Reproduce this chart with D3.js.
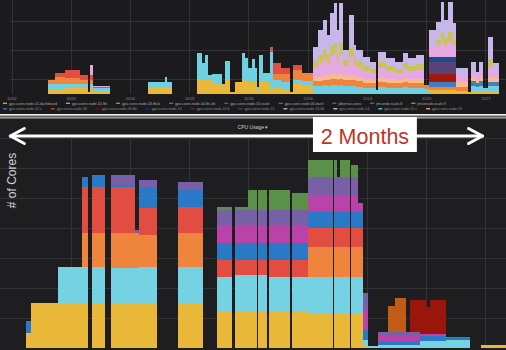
<!DOCTYPE html>
<html><head><meta charset="utf-8">
<script src="https://cdn.jsdelivr.net/npm/d3@7"></script>
<style>html,body{margin:0;padding:0;background:#1d1d20;}svg{display:block}</style>
</head><body>
<svg id="c" width="506" height="350"></svg>
<script>
// ---------- DATA ----------
// time axis in days from 2016-10-02 (weekly grid)
const topTimes = [-1.42,4.25,5.08,6.26,8.03,8.98,9.22,9.57,11.58,16.07,
  18.08,18.31,18.90,21.86,22.45,22.80,23.16,23.63,24.81,25.17,
  25.76,26.35,27.17,27.53,27.88,28.36,28.71,28.95,29.18,29.66,
  30.48,30.84,31.78,32.85,33.20,34.26,35.56,36.15,36.74,37.22,
  37.57,38.04,38.40,38.64,39.11,39.82,40.41,40.64,41.47,42.30,
  43.01,43.24,44.19,45.25,46.20,46.79,47.73,48.68,49.27,50.10,
  50.69,51.04,51.51,52.10,52.46,53.88,54.23,54.82,55.18,55.65,
  56.24,56.83,57.54];
const topEnd = 58.37;

const topYellow = [0,5,5,6,6,2,6,3,0,6, 6,6,0,14,14,14,14,11,8,14, 2,12,14,12,12,12,12,2,12,12, 5,6,4,2,10,8,0,0,0,0,
  0,0,0,0,0,0,0,0,0,0, 0,0,0,0,0,0,0,0,4,4, 4,4,4,4,3,2,3,3,3,3, 3,3,0];
const topCyan = [0,5,5,4,4,0,4,3,0,6, 11,6,0,27,17,25,5,9,2,19, 0,0,27,24,14,23,14,5,27,9, 37,8,8,0,4,5,8,8,9,8,
  9,9,8,9,8,8,8,7,6,6, 4,7,6,6,7,6,6,5,0,0, 0,0,0,0,0,0,5,4,5,3, 5,5,0];
const topOrange = [0,4,7,6,4,0,4,0,0,0, 0,0,0,0,0,0,0,0,0,0, 0,0,0,0,0,0,0,0,0,0, 0,6,8,0,10,8,5,5,5,6,
  6,6,6,6,6,6,6,6,5,5, 0,5,5,5,5,5,5,4,3,3, 3,3,3,3,4,0,0,0,0,0, 0,0,0];
const topRed = [0,0,4,8,5,0,5,1,0,0, 0,0,0,0,0,0,0,0,0,0, 0,0,0,0,0,0,0,0,0,0, 5,11,6,0,5,0,0,0,0,0,
  0,0,0,0,0,0,0,0,0,0, 0,0,0,0,0,0,0,0,0,0, 0,0,0,0,0,0,0,0,0,0, 0,0,0];
const topBlue = [0,0,0,0,0,0,0,0,0,0, 0,0,0,0,0,0,0,0,0,0, 0,0,0,0,0,0,0,0,0,0, 0,0,0,0,0,0,0,0,0,0,
  0,0,0,0,0,0,0,0,0,0, 0,0,0,0,0,0,0,0,5,5, 5,5,5,5,0,0,5,4,5,0, 4,4,0];
const topDarkRed = [0,0,0,0,0,0,0,0,0,0, 0,0,0,0,0,0,0,0,0,0, 0,0,0,0,0,0,0,0,0,0, 0,0,0,0,0,0,0,0,0,0,
  0,0,0,0,0,0,0,0,0,0, 0,0,0,0,0,0,0,0,8,8, 8,8,8,8,0,0,0,0,0,0, 0,0,0];
const topDarkPurple = [0,0,0,0,0,0,0,0,0,0, 0,0,0,0,0,0,0,0,0,0, 0,0,0,0,0,0,0,0,0,0, 0,0,0,0,0,0,0,0,0,0,
  0,0,0,0,0,0,0,0,0,0, 0,0,0,0,0,0,0,0,12,12, 12,12,12,12,0,0,0,0,0,0, 0,0,0];
const topNavy = [0,0,0,0,0,0,0,0,0,0, 0,0,0,0,0,0,0,0,0,0, 0,0,0,0,0,0,0,0,0,0, 0,0,0,0,0,0,0,0,0,0,
  0,0,0,0,0,0,0,0,0,0, 0,0,0,0,0,0,0,0,5,5, 5,5,5,5,0,0,0,0,0,0, 0,0,0];
const topPeach = [0,0,0,0,0,0,0,0,0,0, 0,0,0,0,0,0,0,0,0,0, 0,0,0,0,0,0,0,0,0,0, 0,0,0,0,0,0,4,4,5,4,
  5,5,4,5,4,5,4,4,4,3, 0,4,4,3,4,4,4,0,0,0, 0,0,0,0,5,0,4,3,4,0, 5,4,0];
const topPink = [0,0,0,0,0,0,10,1,0,0, 0,0,0,0,0,0,0,0,0,0, 0,0,0,0,0,0,0,0,0,0, 0,0,0,0,0,0,10,14,16,13,
  18,20,14,20,10,18,11,10,8,7, 0,10,8,7,9,8,9,0,10,12, 15,12,15,12,6,0,6,4,6,0, 10,6,0];
const topOlive = [0,0,0,0,0,0,0,0,0,0, 0,0,0,0,0,0,0,0,0,0, 0,0,0,0,0,0,0,0,0,0, 0,0,0,0,0,0,6,8,9,8,
  10,11,8,11,6,10,7,6,5,4, 0,6,5,4,6,5,6,0,0,5, 10,7,10,5,0,0,0,0,0,0, 8,0,0];
const topLavender = [0,0,0,0,0,0,0,0,0,0, 0,0,0,0,0,0,0,0,0,0, 0,0,0,0,0,0,0,0,0,0, 0,0,0,0,0,0,14,25,30,20,
  33,40,24,40,10,32,13,11,9,7, 0,10,8,7,10,8,9,0,17,18, 30,18,30,17,8,0,9,4,9,0, 22,9,0];
const topGridTicks = [15, 44, 73];

const bottomTimes = [-1.42,1.65,2.24,5.43,8.27,8.98,9.45,10.99,11.70,14.53,
  15.00,17.13,19.61,22.57,24.22,25.99,26.35,27.88,28.89,29.12,
  30.13,30.42,32.85,33.14,34.97,37.93,38.04,38.40,38.75,39.93,
  40.05,40.88,41.47,42.06,43.24,44.42,45.25,46.55,47.02,48.20,
  48.91,49.39,51.28,54.11,55.41];
const bottomEnd = 58.37;
const coresYellow  = [0,15,45,45,45,0,45,0,45,45, 45,0,45,0,36,0,36,36,0,36, 0,36,0,36,35,0,35,35,35,0, 35,35,3,0,0,0,0,0,0,0, 0,0,0,0,3];
const coresCyan    = [0,0,0,36,36,0,36,0,35,35, 36,0,36,0,35,0,37,37,0,37, 0,35,0,35,36,0,36,36,36,0, 36,36,5,2,3,3,3,3,3,7, 7,7,8,0,0];
const coresOrange  = [0,0,0,0,34,0,34,0,35,35, 32,0,34,0,0,0,0,0,0,0, 0,0,0,0,30,0,30,30,30,0, 30,30,0,0,0,0,0,0,0,0, 0,0,0,0,0];
const coresRed     = [0,0,0,0,46,0,46,0,46,0, 27,0,26,0,17,0,15,15,0,15, 0,17,0,17,19,0,19,19,19,0, 19,19,0,0,0,0,0,0,0,0, 0,0,0,0,0];
const coresBlue    = [0,12,0,0,10,0,12,0,2,0, 21,0,17,0,17,0,17,17,0,17, 0,17,0,17,16,0,16,16,16,0, 16,16,10,0,4,4,4,4,4,5, 5,5,2,0,0];
const coresMagenta = [0,0,0,0,0,0,0,0,0,0, 0,0,0,0,18,0,18,18,0,18, 0,18,0,18,17,0,17,17,17,0, 17,9,20,0,6,6,6,6,6,2, 2,2,1,0,0];
const coresPurple  = [0,0,0,0,0,0,0,0,10,3, 7,0,8,0,15,0,15,15,0,15, 0,15,0,15,18,0,18,18,18,0, 18,0,17,0,3,3,3,3,3,0, 0,0,0,0,0];
const coresGreen   = [0,0,0,0,0,0,0,0,0,0, 0,0,0,0,3,0,3,20,0,20, 0,20,0,17,17,0,17,0,17,0, 12,0,0,0,0,0,0,0,0,0, 0,0,0,0,0];
const coresBurnt   = [0,0,0,0,0,0,0,0,0,0, 0,0,0,0,0,0,0,0,0,0, 0,0,0,0,0,0,0,0,0,0, 0,0,0,0,0,26,34,0,0,0, 0,0,0,0,0];
const coresDarkRed = [0,0,0,0,0,0,0,0,0,0, 0,0,0,0,0,0,0,0,0,0, 0,0,0,0,0,0,0,0,0,0, 0,0,0,0,0,0,0,0,32,34, 27,34,0,0,0];
const bottomGridTicks = [30, 60, 90, 120, 150, 180, 210];

const legendRow1 = ["gpu.cores.node-01.dashboard","gpu.cores.node-02.fbt","gpu.cores.node-03.fbt-b","gpu.cores.node-04.fbt-4b","gpu.cores.node-05.scale","gpu.cores.node-06.dash","jdbernat.cores","jmcondo.scale-8","jmconsole.scale-9"];
const legendRow2 = ["gpu.cores.node-07.c","gpu.cores.node-08","gpu.cores.node-09.fbt","gpu.cores.node-10","gpu.cores.node-11.b","gpu.cores.node-12","gpu.cores.node-13.4b","gpu.cores.node-14","gpu.cores.node-15.c","gpu.cores.node-16"];
const legendColors1 = ["#EAB839","#6ED0E0","#EF843C","#E24D42","#1F78C1","#BA43A9","#705DA0","#508642","#CCA300"];
const legendColors2 = ["#447EBC","#C15C17","#890F02","#0A437C","#6D1F62","#584477","#B7DBAB","#F4D598","#70DBED","#F9BA8F"];

// ---------- DRAW ----------
const W = 506, H = 350;
const svg = d3.select("#c");
const origin = Date.UTC(2016, 9, 2);
const toDate = d => new Date(origin + d * 864e5);
const x = d3.scaleUtc().domain([toDate(-1.418), toDate(58.37)]).range([0, W]);
const weeks = x.ticks(d3.utcWeek.every(1));
const yT = d3.scaleLinear().domain([0, 94]).range([94, 0]);
const yB = d3.scaleLinear().domain([0, 210]).range([348, 138]);

svg.append("rect").attr("width", W).attr("height", 114).attr("fill", "#1b1b1e");
svg.append("rect").attr("y", 118).attr("width", W).attr("height", H - 118).attr("fill", "#1e1e21");

const gridCol = "#333337";
// top grid
const gT = svg.append("g");
gT.selectAll("line.v").data(weeks).join("line")
  .attr("x1", d => x(d)).attr("x2", d => x(d)).attr("y1", 0).attr("y2", yT(0))
  .attr("stroke", gridCol).attr("shape-rendering", "crispEdges");
gT.selectAll("line.h").data(topGridTicks).join("line").attr("class", "h")
  .attr("x1", 10).attr("x2", W).attr("y1", d => yT(d)).attr("y2", d => yT(d))
  .attr("stroke", gridCol).attr("shape-rendering", "crispEdges");

// bottom grid
const gB = svg.append("g");
gB.selectAll("line.v").data(weeks.filter(d => x(d) > 20)).join("line")
  .attr("x1", d => x(d)).attr("x2", d => x(d)).attr("y1", yB(210)).attr("y2", yB(0))
  .attr("stroke", gridCol).attr("shape-rendering", "crispEdges");
gB.selectAll("line.h").data(bottomGridTicks).join("line").attr("class", "h")
  .attr("x1", 0).attr("x2", W).attr("y1", d => yB(d)).attr("y2", d => yB(d))
  .attr("stroke", gridCol).attr("shape-rendering", "crispEdges");

function drawStack(g, times, endT, series, y) {
  const keys = series.map(s => s.key);
  series.forEach(s => { if (s.values.length !== times.length) throw new Error("length " + s.key + " " + s.values.length); });
  const rows = times.map((t, i) => { const r = { t: toDate(t) }; series.forEach(s => r[s.key] = s.values[i]); return r; });
  rows.push(Object.assign({}, rows[rows.length - 1], { t: toDate(endT) }));
  const st = d3.stack().keys(keys)(rows);
  const area = d3.area().curve(d3.curveStepAfter)
    .x(d => x(d.data.t)).y0(d => y(d[0])).y1(d => y(d[1]));
  const col = Object.fromEntries(series.map(s => [s.key, s.color]));
  g.selectAll("path").data(st).join("path")
    .attr("d", area).attr("fill", d => col[d.key]).attr("shape-rendering", "crispEdges");
}

drawStack(svg.append("g"), topTimes, topEnd, [
  { key: "ty", values: topYellow, color: "#EAB839" },
  { key: "tc", values: topCyan, color: "#6ED0E0" },
  { key: "to", values: topOrange, color: "#EF843C" },
  { key: "tr", values: topRed, color: "#E24D42" },
  { key: "tb", values: topBlue, color: "#447EBC" },
  { key: "tdr", values: topDarkRed, color: "#A3170C" },
  { key: "tdp", values: topDarkPurple, color: "#584477" },
  { key: "tn", values: topNavy, color: "#1A4A8C" },
  { key: "tpe", values: topPeach, color: "#F9BA8F" },
  { key: "tpk", values: topPink, color: "#E5A8E2" },
  { key: "tly", values: topOlive, color: "#C9C35C" },
  { key: "tlv", values: topLavender, color: "#C7B6EA" }
], yT);

drawStack(svg.append("g"), bottomTimes, bottomEnd, [
  { key: "Y", values: coresYellow, color: "#EAB839" },
  { key: "C", values: coresCyan, color: "#75D2E2" },
  { key: "O", values: coresOrange, color: "#EF843C" },
  { key: "R", values: coresRed, color: "#E24D42" },
  { key: "B", values: coresBlue, color: "#2A79C6" },
  { key: "M", values: coresMagenta, color: "#BA43A9" },
  { key: "P", values: coresPurple, color: "#7760A6" },
  { key: "G", values: coresGreen, color: "#5A9048" },
  { key: "BO", values: coresBurnt, color: "#C15C17" },
  { key: "DR", values: coresDarkRed, color: "#9A150A" }
], yB);

// top x tick labels
const fmt = d3.utcFormat("%m/%d");
svg.append("g").selectAll("text").data(weeks).join("text")
  .attr("x", d => x(d)).attr("y", 99.5).attr("text-anchor", "middle")
  .attr("font-family", "Liberation Sans, Arial, sans-serif").attr("font-size", 3.8)
  .attr("fill", "#8a8a8a").text(d => fmt(d));

// legend
function legendRow(names, colors, y0, fill) {
  const g = svg.append("g");
  let cx = 3;
  names.forEach((n, i) => {
    g.append("rect").attr("x", cx).attr("y", y0 - 1.8).attr("width", 4).attr("height", 1.2).attr("fill", colors[i]);
    const t = g.append("text").attr("x", cx + 6).attr("y", y0)
      .attr("font-family", "Liberation Sans, Arial, sans-serif").attr("font-size", 3.6)
      .attr("fill", fill).text(n);
    cx += 6 + t.node().getComputedTextLength() + 9;
  });
}
legendRow(legendRow1, legendColors1, 104.5, "#a8a8a8");
legendRow(legendRow2, legendColors2, 110, "#8c8c8c");

// separator
svg.append("rect").attr("y", 114).attr("width", W).attr("height", 1.8).attr("fill", "#eeeeee");
svg.append("rect").attr("y", 115.8).attr("width", W).attr("height", 1.6).attr("fill", "#5e5e60");
svg.append("rect").attr("y", 117.4).attr("width", W).attr("height", 1).attr("fill", "#d8d8d8");

// panel title
svg.append("text").attr("x", 253).attr("y", 129).attr("text-anchor", "middle")
  .attr("font-family", "Liberation Sans, Arial, sans-serif").attr("font-size", 5)
  .attr("fill", "#cfcfcf").text("CPU Usage \u25BE");

// y label
svg.append("text").attr("transform", "translate(15.5,180.5) rotate(-90)")
  .attr("text-anchor", "middle").attr("font-family", "Liberation Sans, Arial, sans-serif")
  .attr("font-size", 12).attr("fill", "#d2d2d2").text("# of Cores");

// 2 months arrow
const ax0 = x(toDate(-0.2)), ax1 = x(toDate(55.6)), ay = 136;
const arr = svg.append("g").attr("stroke", "#ffffff").attr("stroke-width", 3)
  .attr("fill", "none").attr("stroke-linecap", "round").attr("stroke-linejoin", "round");
arr.append("line").attr("x1", ax0).attr("x2", ax1).attr("y1", ay).attr("y2", ay);
arr.append("path").attr("d", `M${ax0 + 14},${ay - 7.5}L${ax0},${ay}L${ax0 + 14},${ay + 7.5}`);
arr.append("path").attr("d", `M${ax1 - 14},${ay - 7.5}L${ax1},${ay}L${ax1 - 14},${ay + 7.5}`);
const bx0 = x(toDate(35.56)), bx1 = x(toDate(47.84));
svg.append("rect").attr("x", bx0).attr("y", 117).attr("width", bx1 - bx0).attr("height", 35)
  .attr("fill", "#ffffff");
svg.append("text").attr("x", (bx0 + bx1) / 2).attr("y", 143.5).attr("text-anchor", "middle")
  .attr("font-family", "Liberation Sans, Arial, sans-serif").attr("font-size", 21.5)
  .attr("fill", "#C0352B").text("2 Months");
</script>
</body></html>
